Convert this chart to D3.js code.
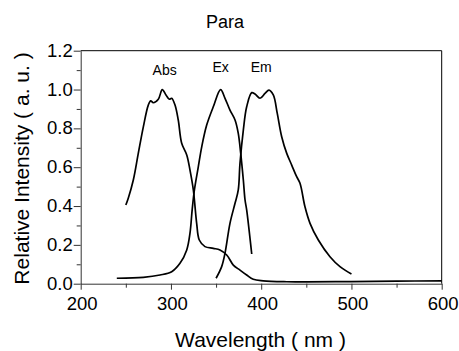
<!DOCTYPE html>
<html>
<head>
<meta charset="utf-8">
<script src="https://cdn.jsdelivr.net/npm/d3@7"></script>
<style>
  body { margin: 0; background: #fff; }
  svg text { font-family: "Liberation Sans", Arial, sans-serif; fill: #000; }
</style>
</head>
<body>
<div id="chart"></div>
<script>
// wavelength (nm) / relative intensity
const absX = [250, 252.7, 258.3, 263.8, 269.4, 274.9, 277.6, 280.4, 286, 290.4, 294.5, 298.2, 300.8, 304.5, 308.1, 311.9, 317.5, 321.1, 324.8, 328.5, 331.4, 337.7, 346.9, 354.3, 361.8, 369.1, 376.5, 383.9, 391.2, 402.3, 428.3, 450, 500, 550, 600];
const absY = [0.405, 0.44, 0.534, 0.671, 0.808, 0.92, 0.942, 0.932, 0.95, 1.0, 0.972, 0.95, 0.955, 0.92, 0.843, 0.723, 0.663, 0.585, 0.483, 0.311, 0.225, 0.191, 0.182, 0.174, 0.148, 0.096, 0.07, 0.045, 0.023, 0.015, 0.01, 0.009, 0.011, 0.013, 0.015];

const exX = [240, 269.4, 287.9, 300.8, 310, 317.5, 321.1, 323.5, 326, 330.3, 334.1, 339.6, 346.9, 355, 359.9, 365.4, 371, 374.6, 377.3, 380.2, 382.1, 383.9, 389.5];
const exY = [0.028, 0.033, 0.045, 0.062, 0.105, 0.174, 0.26, 0.38, 0.483, 0.602, 0.705, 0.817, 0.911, 1.0, 0.955, 0.894, 0.843, 0.774, 0.671, 0.534, 0.431, 0.38, 0.153];

const emX = [350, 356.2, 359.9, 365.4, 371, 374.6, 376.5, 380.2, 383.9, 389.5, 393.1, 398.7, 404.2, 408.6, 413.4, 417.8, 422.7, 428.3, 433.8, 439.3, 443, 448.5, 454.1, 463.3, 476.2, 487.3, 500];
const emY = [0.028, 0.088, 0.157, 0.311, 0.414, 0.483, 0.62, 0.791, 0.911, 0.984, 0.977, 0.955, 0.98, 0.997, 0.972, 0.877, 0.757, 0.671, 0.611, 0.551, 0.517, 0.396, 0.311, 0.225, 0.139, 0.088, 0.05];

const labels = ["Abs", "Ex", "Em"];
const labelX = [293, 355, 400];
const labelY = [1.075, 1.09, 1.09];

const xTicks = [200, 300, 400, 500, 600];
const yTicks = [0.0, 0.2, 0.4, 0.6, 0.8, 1.0, 1.2];

const W = 459, H = 351;
const plotL = 80.7, plotR = 441.7, plotT = 50.7, plotB = 283.7;

const svg = d3.select("#chart").append("svg")
  .attr("width", W)
  .attr("height", H);

svg.append("rect").attr("width", W).attr("height", H).attr("fill", "#fff");

const x = d3.scaleLinear().domain([200, 600]).range([plotL, plotR]);
const y = d3.scaleLinear().domain([0, 1.2]).range([plotB, plotT]);

// frame on top and right
svg.append("path")
  .attr("d", `M${plotL},${plotT}H${plotR}V${plotB}`)
  .attr("fill", "none")
  .attr("stroke", "#000")
  .attr("stroke-width", 1);

// minor ticks
svg.append("g")
  .attr("transform", `translate(0,${plotB})`)
  .call(d3.axisBottom(x).tickValues(d3.range(250, 600, 100)).tickSize(4).tickFormat(""))
  .call(g => g.select(".domain").remove());
svg.append("g")
  .attr("transform", `translate(${plotL},0)`)
  .call(d3.axisLeft(y).tickValues(d3.range(0.1, 1.2, 0.2)).tickSize(4).tickFormat(""))
  .call(g => g.select(".domain").remove());

// main axes
const xAxis = svg.append("g")
  .attr("transform", `translate(0,${plotB})`)
  .call(d3.axisBottom(x).tickValues(xTicks).tickSize(6).tickSizeOuter(0).tickPadding(7).tickFormat(d3.format("d")));
xAxis.selectAll("text").attr("font-size", 18.5).attr("dx", 1);

const yAxis = svg.append("g")
  .attr("transform", `translate(${plotL},0)`)
  .call(d3.axisLeft(y).tickValues(yTicks).tickSize(7).tickSizeOuter(0).tickPadding(1).tickFormat(d3.format(".1f")));
yAxis.selectAll("text").attr("font-size", 18.5).attr("dy", "0.3em");

svg.selectAll(".domain, .tick line").attr("stroke", "#333");

// curves
const line = d3.line()
  .x(d => x(d[0]))
  .y(d => y(d[1]))
  .curve(d3.curveCatmullRom.alpha(0.5));

[[absX, absY], [exX, exY], [emX, emY]].forEach(([xs, ys]) => {
  svg.append("path")
    .datum(xs.map((v, i) => [v, ys[i]]))
    .attr("d", line)
    .attr("fill", "none")
    .attr("stroke", "#000")
    .attr("stroke-width", 1.7);
});

// curve labels
svg.selectAll(".lbl")
  .data(labels)
  .enter().append("text")
  .attr("class", "lbl")
  .attr("x", (d, i) => x(labelX[i]))
  .attr("y", (d, i) => y(labelY[i]))
  .attr("text-anchor", "middle")
  .attr("font-size", 14)
  .text(d => d);

// title and axis titles
svg.append("text")
  .attr("x", 225).attr("y", 28)
  .attr("text-anchor", "middle")
  .attr("font-size", 18)
  .text("Para");

svg.append("text")
  .attr("x", 260.5).attr("y", 347)
  .attr("text-anchor", "middle")
  .attr("font-size", 21)
  .text("Wavelength ( nm )");

svg.append("text")
  .attr("transform", "translate(28.5,168.5) rotate(-90)")
  .attr("text-anchor", "middle")
  .attr("font-size", 21)
  .text("Relative Intensity ( a. u. )");
</script>
</body>
</html>
